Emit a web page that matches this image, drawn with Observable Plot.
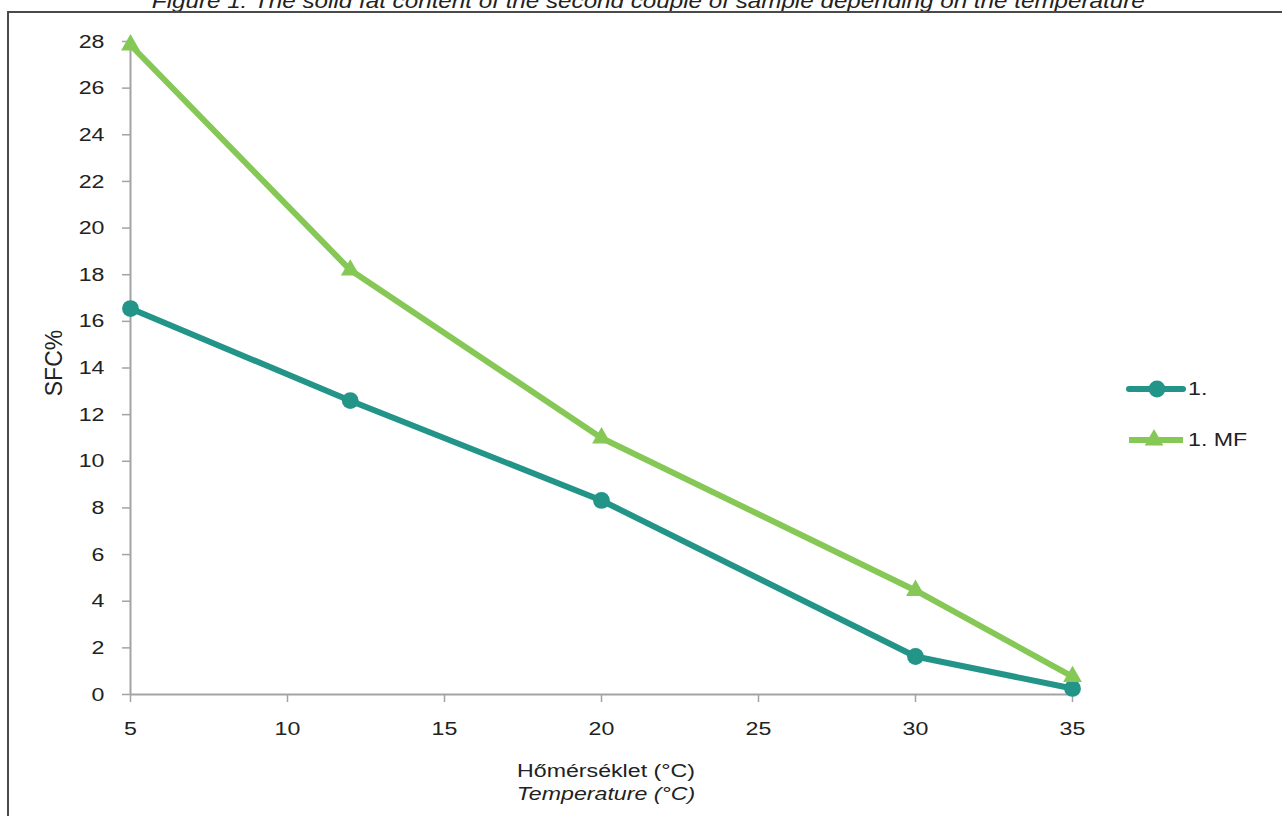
<!DOCTYPE html>
<html>
<head>
<meta charset="utf-8">
<script src="https://cdn.jsdelivr.net/npm/d3@7"></script>
<script src="https://cdn.jsdelivr.net/npm/@observablehq/plot@0.6"></script>
<style>
  html, body { margin: 0; padding: 0; background: #fff; }
  #wrap { position: relative; width: 1282px; height: 816px; overflow: hidden; font-family: "Liberation Sans", Arial, sans-serif; }
  #title { position: absolute; left: 0; width: 1296px; top: -9px; text-align: center; white-space: nowrap; }
  #title span { display: inline-block; font-style: italic; font-size: 20px; line-height: 20px; color: #222; transform: scaleX(1.21); }
  #frameTop { position: absolute; left: 7px; right: 0; top: 11px; height: 0; border-top: 2px solid #4a4a4a; }
  #frameLeft { position: absolute; left: 7px; top: 11px; bottom: 0; width: 0; border-left: 2px solid #4a4a4a; }
  #chart { position: absolute; left: 0; top: 0; }
  #chart svg text { font-size: 19px; fill: #222; }
  #legend { position: absolute; left: 1126px; top: 376px; font-size: 19px; color: #222; }
  .item { display: flex; align-items: center; height: 26px; margin-bottom: 25px; }
  .item svg { display: block; }
  .item span { margin-left: 2px; display: inline-block; transform: scaleX(1.22); transform-origin: left center; }
</style>
</head>
<body>
<div id="wrap">
  <div id="title"><span>Figure 1: The solid fat content of the second couple of sample depending on the temperature</span></div>
  <div id="chart"></div>
  <div id="frameTop"></div>
  <div id="frameLeft"></div>
  <div id="legend"></div>
</div>
<script>
// Data
const temperatures = [5, 12, 20, 30, 35];
const series1 = [16.55, 12.6, 8.32, 1.63, 0.26];      // "1."
const series1MF = [27.85, 18.2, 11.0, 4.46, 0.77];     // "1. MF"
const seriesNames = ["1.", "1. MF"];
const xTicks = [5, 10, 15, 20, 25, 30, 35];
const yTicks = [0, 2, 4, 6, 8, 10, 12, 14, 16, 18, 20, 22, 24, 26, 28];
const colors = ["#239488", "#86c856"];

const rows = [];
temperatures.forEach((t, i) => {
  rows.push({t, v: series1[i], s: seriesNames[0]});
  rows.push({t, v: series1MF[i], s: seriesNames[1]});
});

const axisColor = "#a3a3a3";
const chart = Plot.plot({
  width: 1282,
  height: 816,
  marginLeft: 130,
  marginRight: 210,
  marginTop: 41,
  marginBottom: 122,
  style: {fontFamily: "Liberation Sans, Arial, sans-serif", fontSize: "19px", color: "#222", background: "transparent"},
  x: {domain: [5, 35]},
  y: {domain: [0, 28]},
  marks: [
    Plot.axisY({ticks: yTicks, tickSize: 8, tickPadding: 18, stroke: axisColor, strokeWidth: 1.5, label: null}),
    Plot.axisX({ticks: xTicks, tickSize: 8, tickPadding: 19, stroke: axisColor, strokeWidth: 1.5, label: null}),
    Plot.ruleX([5], {stroke: axisColor, strokeWidth: 2}),
    Plot.ruleY([0], {stroke: axisColor, strokeWidth: 2}),
    Plot.line(rows.filter(d => d.s === seriesNames[0]), {x: "t", y: "v", stroke: colors[0], strokeWidth: 6}),
    Plot.dot(rows.filter(d => d.s === seriesNames[0]), {x: "t", y: "v", fill: colors[0], r: 8.4, symbol: "circle"}),
    Plot.line(rows.filter(d => d.s === seriesNames[1]), {x: "t", y: "v", stroke: colors[1], strokeWidth: 6}),
    Plot.dot(rows.filter(d => d.s === seriesNames[1]), {x: "t", y: "v", fill: colors[1], r: 7, symbol: "triangle"})
  ]
});
document.getElementById("chart").appendChild(chart);

const svg = d3.select(chart);
svg.append("text")
  .attr("x", 606).attr("y", 777)
  .attr("text-anchor", "middle")
  .text("Hőmérséklet (°C)");
svg.append("text")
  .attr("x", 606).attr("y", 800)
  .attr("text-anchor", "middle")
  .attr("font-style", "italic")
  .text("Temperature (°C)");

// widen horizontal texts about their anchor point
svg.selectAll("text").each(function() {
  const el = d3.select(this);
  const x = +(el.attr("x") || 0);
  const tr = el.attr("transform") || "";
  el.attr("transform", `${tr} translate(${x},0) scale(1.22,1) translate(${-x},0)`);
});

svg.append("text")
  .attr("transform", "translate(62,363) rotate(-90)")
  .attr("text-anchor", "middle")
  .style("font-size", "23px")
  .text("SFC%");

// Legend
const legend = document.getElementById("legend");
seriesNames.forEach((name, i) => {
  const item = document.createElement("div");
  item.className = "item";
  const s = d3.create("svg").attr("width", 60).attr("height", 26);
  s.append("line").attr("x1", 3).attr("x2", 57).attr("y1", 13).attr("y2", 13)
    .attr("stroke", colors[i]).attr("stroke-width", 6).attr("stroke-linecap", i === 0 ? "round" : "butt");
  s.append("path")
    .attr("transform", `translate(${i === 0 ? 31 : 28},13)`)
    .attr("d", (i === 0 ? d3.symbol(d3.symbolCircle, Math.PI * 8.4 * 8.4) : d3.symbol(d3.symbolTriangle, Math.PI * 7 * 7))())
    .attr("fill", colors[i]);
  item.appendChild(s.node());
  const label = document.createElement("span");
  label.textContent = name;
  item.appendChild(label);
  legend.appendChild(item);
});
</script>
</body>
</html>
